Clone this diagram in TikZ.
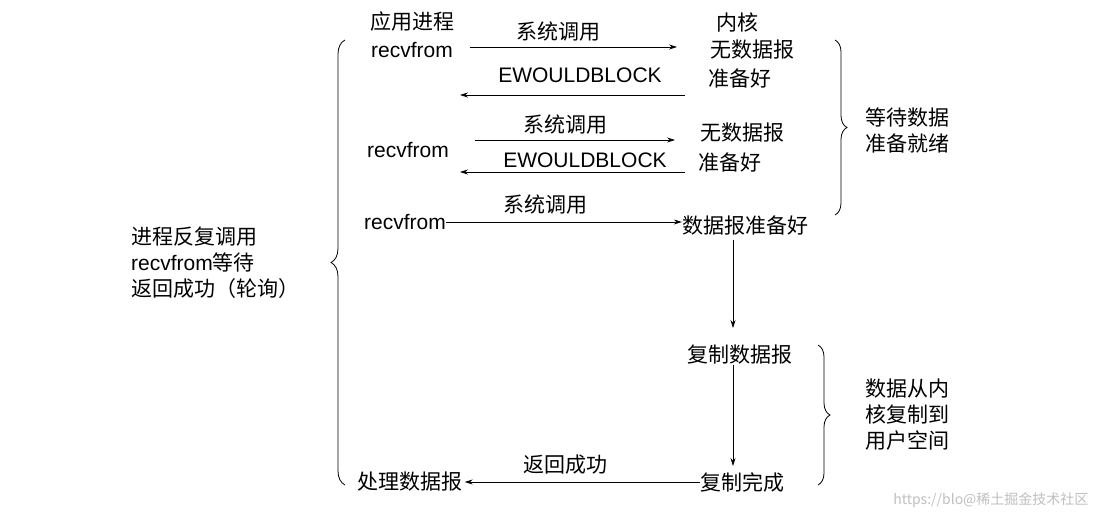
\documentclass[tikz,border=0pt]{standalone}
\usepackage{fontspec}
\setmainfont{Liberation Sans}
\newfontfamily\cjk{Noto Sans CJK SC}
\usetikzlibrary{decorations.pathreplacing,arrows.meta}
\begin{document}
\begin{tikzpicture}[x=1pt,y=-1pt,
  t/.style={font=\cjk\fontsize{21}{26}\selectfont,inner sep=0pt},
  e/.style={font=\fontsize{21}{25}\selectfont,inner sep=0pt},
  ar/.style={-{Stealth[length=8pt,width=5pt]},line width=0.7pt},
  br/.style={decorate,decoration={brace,amplitude=12pt},line width=0.8pt}]
\useasboundingbox (0,0) rectangle (1100,519);
\node[t] (app) at (412,22) {应用进程};
\node[e] (r1) at (412,50) {recvfrom};
\node[t] (sc1) at (558,32) {系统调用};
\node[t] (kern) at (737,22) {内核};
\node[t] (nd1) at (752,50) {无数据报};
\node[t] (rd1) at (740,78) {准备好};
\node[e] (ew1) at (580,75) {EWOULDBLOCK};
\coordinate (a1s) at (470,47); \coordinate (a1e) at (677,47);
\coordinate (b1s) at (685,95); \coordinate (b1e) at (460,95);
\draw[ar] (a1s) -- (a1e); \draw[ar] (b1s) -- (b1e);
\node[t] (sc2) at (565,125) {系统调用};
\node[e] (r2) at (408,150) {recvfrom};
\node[e] (ew2) at (585,160) {EWOULDBLOCK};
\node[t] (nd2) at (742,133) {无数据报};
\node[t] (rd2) at (730,162) {准备好};
\coordinate (a2s) at (475,140); \coordinate (a2e) at (675,140);
\coordinate (b2s) at (685,172); \coordinate (b2e) at (460,172);
\draw[ar] (a2s) -- (a2e); \draw[ar] (b2s) -- (b2e);
\node[e] (r3) at (405,222) {recvfrom};
\node[t] (sc3) at (545,205) {系统调用};
\node[t] (ready) at (745,226) {数据报准备好};
\draw[ar] (r3.east) -- (ready.west |- r3.east);
\node[t] (copy) at (740,355) {复制数据报};
\node[t] (done) at (742,482) {复制完成};
\node[t] (proc) at (410,482) {处理数据报};
\node[t] (ret) at (565,465) {返回成功};
\coordinate (d1s) at (733,240); \coordinate (d1e) at (733,328);
\coordinate (d2s) at (733,365); \coordinate (d2e) at (733,466);
\draw[ar] (d1s) -- (d1e); \draw[ar] (d2s) -- (d2e);
\draw[ar] (done.west) -- ([xshift=2pt]proc.east);
\coordinate (rb1t) at (835,40); \coordinate (rb1b) at (835,215);
\draw[br] (rb1t) -- (rb1b);
\node[t,align=left] (wait) at (907,130) {等待数据\\准备就绪};
\coordinate (rb2t) at (818,345); \coordinate (rb2b) at (818,485);
\draw[br] (rb2t) -- (rb2b);
\node[t,align=left] (cpk) at (907,415) {数据从内\\核复制到\\用户空间};
\coordinate (lbb) at (345,485); \coordinate (lbt) at (345,40);
\draw[br,decoration={brace,amplitude=14pt}] (lbb) -- (lbt);
\node[t,align=left,anchor=west] (poll) at (131,263) {进程反复调用\\{\fontspec{Liberation Sans}recvfrom}等待\\返回成功（轮询）};
\node[font=\cjk\fontsize{14}{16}\selectfont,text=black!25,anchor=east] (wm) at (1092,500) {https://blo@稀土掘金技术社区};
\end{tikzpicture}
\end{document}
